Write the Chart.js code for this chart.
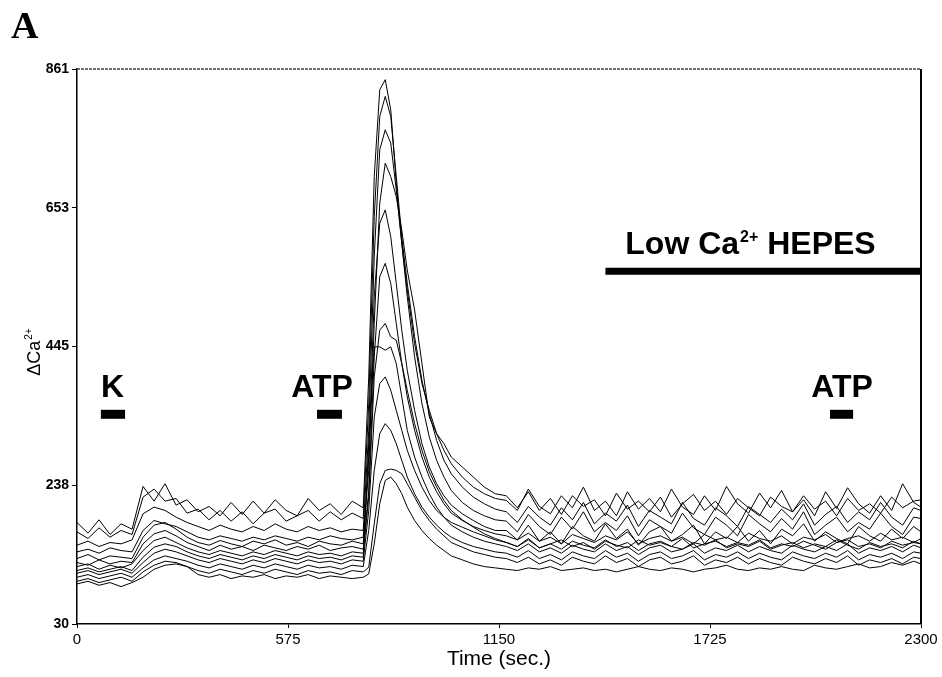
<!DOCTYPE html>
<html>
<head>
<meta charset="utf-8">
<script src="https://cdn.jsdelivr.net/npm/chart.js@4.4.1/dist/chart.umd.min.js"></script>
<style>
  html, body { margin: 0; padding: 0; background: #fff; }
  #wrap { position: relative; width: 942px; height: 677px; }
</style>
</head>
<body>
<div id="wrap"><canvas id="caChart" width="942" height="677"></canvas></div>
<script>
// sample times (sec), denser around the ATP response
const times = [0, 30, 60, 90, 120, 150, 180, 210, 240, 270, 300, 330, 360, 390, 420, 450, 480, 510, 540, 570, 600, 630, 660, 690, 720, 750, 780,
  795, 810, 825, 840, 855, 870, 885, 900, 920, 940, 960, 980, 1000, 1020, 1050, 1080, 1110, 1140,
  1170, 1200, 1230, 1260, 1290, 1320, 1350, 1380, 1410, 1440, 1470, 1500, 1530, 1560, 1590, 1620, 1650, 1680, 1710, 1740, 1770, 1800,
  1830, 1860, 1890, 1920, 1950, 1980, 2010, 2040, 2070, 2100, 2130, 2160, 2190, 2220, 2250, 2280, 2300];

// one array per cell (delta Ca2+)
const trace1 = [182, 166, 186, 164, 180, 172, 236, 214, 240, 208, 216, 198, 206, 192, 212, 194, 214, 196, 216, 200, 192, 218, 200, 210, 194, 214, 204,
  400, 700, 830, 845, 800, 690, 600, 530, 450, 390, 350, 315, 290, 270, 250, 235, 225, 218,
  215, 200, 232, 206, 195, 222, 204, 235, 200, 214, 192, 228, 202, 218, 198, 232, 205, 194, 222, 200, 236, 210, 196, 226, 204, 230, 198, 216, 192, 228, 203, 234, 210, 196, 222, 200, 240, 212, 205];
const trace2 = [168, 158, 174, 160, 170, 164, 220, 232, 214, 218, 196, 202, 186, 200, 184, 198, 180, 196, 202, 184, 192, 200, 184, 198, 186, 196, 188,
  360, 640, 790, 820, 790, 700, 610, 540, 460, 395, 345, 305, 275, 255, 235, 220, 210, 202,
  198, 182, 206, 190, 178, 204, 186, 212, 180, 196, 184, 208, 176, 200, 190, 180, 212, 188, 178, 204, 192, 176, 206, 194, 182, 202, 186, 210, 178, 194, 206, 182, 198, 186, 212, 190, 178, 204, 200];
const trace3 = [148, 154, 146, 152, 150, 156, 195, 205, 200, 190, 182, 176, 170, 178, 172, 168, 176, 170, 180, 172, 168, 176, 170, 174, 168, 172, 170,
  320, 580, 740, 770, 750, 680, 600, 520, 430, 360, 310, 275, 250, 230, 212, 200, 192, 186,
  184, 168, 194, 176, 164, 190, 172, 198, 168, 182, 170, 192, 162, 186, 176, 166, 196, 174, 164, 190, 178, 162, 194, 180, 168, 188, 172, 198, 164, 178, 190, 168, 182, 172, 196, 176, 164, 190, 188];
const trace4 = [138, 142, 136, 144, 140, 138, 170, 185, 180, 176, 168, 160, 156, 162, 158, 154, 160, 156, 162, 158, 154, 160, 156, 162, 158, 156, 160,
  260, 480, 660, 720, 700, 670, 620, 560, 500, 420, 340, 315, 300, 280, 265, 250, 235, 225,
  222, 204, 228, 200, 218, 194, 222, 206, 216, 192, 226, 202, 214, 198, 220, 190, 210, 224, 200, 214, 194, 218, 204, 192, 220, 206, 198, 222, 202, 214, 192, 218, 200, 210, 196, 220, 204, 214, 216];
const trace5 = [128, 134, 126, 132, 130, 128, 160, 178, 182, 172, 160, 152, 148, 155, 150, 146, 154, 150, 156, 148, 152, 146, 154, 150, 148, 154, 150,
  280, 520, 630, 650, 610, 540, 470, 410, 350, 300, 265, 240, 222, 208, 195, 185, 176, 170,
  170, 156, 178, 154, 168, 150, 176, 162, 154, 180, 158, 172, 148, 168, 176, 154, 164, 178, 150, 168, 158, 176, 154, 170, 150, 172, 162, 180, 154, 168, 158, 150, 176, 162, 154, 172, 158, 176, 168];
const trace6 = [122, 118, 126, 120, 124, 122, 150, 165, 170, 162, 152, 146, 140, 148, 142, 146, 140, 148, 144, 140, 146, 142, 148, 140, 144, 146, 142,
  230, 430, 550, 570, 540, 480, 420, 370, 320, 280, 250, 228, 210, 196, 185, 176, 170, 165,
  162, 156, 166, 154, 160, 150, 164, 158, 152, 162, 156, 168, 150, 158, 162, 154, 160, 150, 164, 156, 160, 152, 166, 158, 154, 162, 150, 160, 156, 164, 152, 158, 162, 154, 166, 156, 160, 152, 158];
const trace7 = [116, 120, 112, 118, 114, 120, 140, 155, 160, 152, 144, 138, 134, 140, 136, 132, 138, 134, 140, 136, 132, 138, 134, 136, 132, 138, 136,
  220, 400, 470, 480, 460, 455, 420, 380, 330, 290, 258, 235, 215, 200, 186, 175, 165, 158,
  152, 146, 156, 144, 150, 142, 154, 148, 144, 156, 146, 152, 140, 150, 154, 146, 142, 152, 148, 156, 144, 150, 146, 154, 142, 148, 152, 144, 150, 146, 156, 148, 142, 152, 146, 150, 144, 154, 150];
const trace8 = [110, 114, 108, 112, 116, 110, 130, 145, 150, 146, 138, 132, 128, 134, 130, 126, 132, 128, 134, 130, 126, 132, 128, 130, 126, 132, 130,
  300, 445, 445, 440, 445, 420, 370, 320, 280, 250, 225, 205, 190, 178, 168, 160, 154, 150,
  146, 140, 150, 138, 144, 136, 148, 142, 138, 150, 140, 146, 134, 144, 148, 138, 142, 150, 136, 144, 140, 148, 138, 146, 140, 136, 148, 142, 138, 146, 140, 150, 136, 144, 140, 146, 138, 148, 144];
const trace9 = [106, 110, 104, 108, 112, 106, 122, 136, 142, 138, 132, 126, 122, 128, 124, 120, 126, 122, 128, 124, 120, 126, 122, 124, 120, 126, 124,
  200, 340, 390, 400, 380, 350, 320, 290, 260, 235, 215, 200, 190, 182, 175, 168, 162, 156,
  152, 146, 158, 144, 150, 156, 146, 152, 142, 154, 148, 144, 156, 148, 152, 146, 158, 144, 150, 154, 146, 152, 148, 156, 144, 150, 146, 154, 148, 142, 152, 156, 146, 150, 144, 154, 148, 152, 150];
const trace10 = [100, 104, 98, 102, 106, 100, 114, 126, 132, 128, 124, 118, 114, 120, 116, 112, 118, 114, 120, 116, 112, 118, 114, 116, 112, 118, 116,
  170, 260, 315, 330, 320, 300, 275, 250, 225, 205, 190, 178, 168, 160, 152, 146, 142, 138,
  136, 130, 140, 128, 134, 126, 138, 132, 128, 140, 130, 136, 124, 134, 138, 128, 132, 140, 126, 134, 130, 138, 128, 136, 130, 126, 138, 132, 128, 136, 130, 140, 126, 134, 130, 136, 128, 138, 136];
const trace11 = [94, 98, 92, 96, 100, 94, 108, 118, 124, 122, 116, 110, 106, 112, 108, 104, 110, 106, 112, 108, 104, 110, 106, 108, 104, 110, 108,
  115, 180, 240, 260, 262, 260, 255, 240, 220, 200, 185, 172, 162, 152, 145, 138, 134, 130,
  128, 122, 130, 120, 126, 118, 130, 124, 120, 132, 122, 128, 116, 126, 130, 120, 124, 132, 118, 126, 122, 130, 120, 128, 122, 118, 130, 124, 120, 128, 122, 132, 118, 126, 122, 128, 120, 130, 128];
const trace12 = [90, 94, 88, 92, 86, 92, 100, 112, 118, 120, 116, 104, 100, 104, 98, 102, 100, 104, 98, 102, 100, 104, 98, 102, 100, 98, 100,
  105, 150, 210, 245, 250, 240, 225, 205, 185, 170, 158, 148, 140, 132, 126, 120, 116, 114,
  112, 110, 114, 112, 116, 110, 112, 114, 110, 112, 108, 112, 116, 112, 110, 114, 112, 108, 112, 114, 118, 112, 110, 114, 112, 116, 112, 110, 118, 114, 112, 116, 120, 114, 116, 122, 118, 124, 120];

const xTicks = [0, 575, 1150, 1725, 2300];
const yTicks = [30, 237.75, 445.5, 653.25, 861];
const yTickLabels = ['30', '238', '445', '653', '861'];

// application bars
const stimLabels = ['K', 'ATP', 'Low Ca²⁺ HEPES', 'ATP'];
const stimStart = [65, 654, 1440, 2052];
const stimEnd = [131, 722, 2300, 2115];
const stimLevel = [344, 344, 558, 344];
const stimLabelX = [97, 668, 1834, 2085];

const traces = [trace1, trace2, trace3, trace4, trace5, trace6, trace7, trace8, trace9, trace10, trace11, trace12];

const datasets = traces.map((vals, i) => ({
    label: 'cell ' + (i + 1),
    data: times.map((t, j) => ({ x: t, y: vals[j] })),
    borderColor: '#000',
    borderWidth: 1,
    pointRadius: 0,
    tension: 0,
    fill: false
}));

stimStart.forEach((s, i) => {
    datasets.push({
        label: stimLabels[i],
        data: [{ x: s, y: stimLevel[i] }, { x: stimEnd[i], y: stimLevel[i] }],
        borderColor: '#000',
        borderWidth: i === 2 ? 7 : 9,
        borderCapStyle: 'butt',
        pointRadius: 0,
        fill: false
    });
});

// text with a raised "2+" part
function drawWithSup(ctx, label, x, y, size, align) {
    const parts = label.split('²⁺');
    const main = 'bold ' + size + 'px "Liberation Sans", Arial, sans-serif';
    const sup = 'bold ' + Math.round(size * 0.5) + 'px "Liberation Sans", Arial, sans-serif';
    ctx.font = main;
    const w0 = ctx.measureText(parts[0]).width;
    const w2 = parts.length > 1 ? ctx.measureText(parts[1]).width : 0;
    ctx.font = sup;
    const w1 = parts.length > 1 ? ctx.measureText('2+').width : 0;
    let left = align === 'center' ? x - (w0 + w1 + w2) / 2 : x;
    ctx.textAlign = 'left';
    ctx.font = main;
    ctx.fillText(parts[0], left, y);
    if (parts.length > 1) {
        ctx.font = sup;
        ctx.fillText('2+', left + w0 + 1, y - size * 0.4);
        ctx.font = main;
        ctx.fillText(parts[1], left + w0 + w1 + 1, y);
    }
}

const decorPlugin = {
    id: 'decor',
    afterDraw(chart) {
        const { ctx, chartArea: a, scales: { x, y } } = chart;
        ctx.save();
        // frame: top edge is faint in the scan, right edge solid
        ctx.strokeStyle = '#444';
        ctx.lineWidth = 1.5;
        ctx.setLineDash([3, 1]);
        ctx.beginPath();
        ctx.moveTo(a.left, a.top);
        ctx.lineTo(a.right, a.top);
        ctx.stroke();
        ctx.setLineDash([]);
        ctx.strokeStyle = '#000';
        ctx.lineWidth = 2;
        ctx.beginPath();
        ctx.moveTo(a.right, a.top);
        ctx.lineTo(a.right, a.bottom);
        ctx.stroke();

        ctx.fillStyle = '#000';
        ctx.textBaseline = 'alphabetic';
        stimLabels.forEach((lab, i) => {
            const cx = x.getPixelForValue(stimLabelX[i]);
            const by = y.getPixelForValue(stimLevel[i]) - 17;
            drawWithSup(ctx, lab, cx, by, 32, 'center');
        });

        // panel letter
        ctx.font = 'bold 38px "Liberation Serif", "Times New Roman", serif';
        ctx.textAlign = 'left';
        ctx.fillText('A', 11, 38);

        // axis titles
        ctx.font = '21px "Liberation Sans", Arial, sans-serif';
        ctx.textAlign = 'center';
        ctx.textBaseline = 'middle';
        ctx.fillText('Time (sec.)', (a.left + a.right) / 2, 659);

        ctx.translate(33, (a.top + a.bottom) / 2 + 6);
        ctx.rotate(-Math.PI / 2);
        ctx.textBaseline = 'alphabetic';
        ctx.font = '18px "Liberation Sans", Arial, sans-serif';
        const w0 = ctx.measureText('ΔCa').width;
        ctx.font = '10px "Liberation Sans", Arial, sans-serif';
        const w1 = ctx.measureText('2+').width;
        const left = -(w0 + w1) / 2;
        ctx.font = '18px "Liberation Sans", Arial, sans-serif';
        ctx.textAlign = 'left';
        ctx.fillText('ΔCa', left, 7);
        ctx.font = '10px "Liberation Sans", Arial, sans-serif';
        ctx.fillText('2+', left + w0 + 1, -1);
        ctx.restore();
    }
};

document.addEventListener('DOMContentLoaded', function() {
    const ctx = document.getElementById('caChart').getContext('2d');
    new Chart(ctx, {
        type: 'line',
        data: { datasets: datasets },
        plugins: [decorPlugin],
        options: {
            responsive: false,
            animation: false,
            devicePixelRatio: 1,
            layout: { padding: { left: 0, right: 21, top: 69, bottom: 0 } },
            plugins: { legend: { display: false }, tooltip: { enabled: false } },
            scales: {
                x: {
                    type: 'linear',
                    min: 0,
                    max: 2300,
                    afterBuildTicks: s => { s.ticks = xTicks.map(v => ({ value: v })); },
                    afterFit: s => { s.height = 53; },
                    ticks: {
                        color: '#000',
                        maxRotation: 0,
                        padding: 3,
                        callback: v => String(v),
                        font: { family: '"Liberation Sans", Arial, sans-serif', size: 15 }
                    },
                    grid: { drawOnChartArea: false, drawTicks: true, tickLength: 4, color: '#000' },
                    border: { color: '#000', width: 1.5 }
                },
                y: {
                    type: 'linear',
                    min: 30,
                    max: 861,
                    afterBuildTicks: s => { s.ticks = yTicks.map(v => ({ value: v })); },
                    afterFit: s => { s.width = 77; },
                    ticks: {
                        color: '#000',
                        padding: 3,
                        callback: (v, i) => yTickLabels[i],
                        font: { family: '"Liberation Sans Narrow", "Liberation Sans", Arial, sans-serif', size: 14, weight: 'bold' }
                    },
                    grid: { drawOnChartArea: false, drawTicks: true, tickLength: 5, color: '#000' },
                    border: { color: '#000', width: 1.5 }
                }
            }
        }
    });
});
</script>
</body>
</html>
